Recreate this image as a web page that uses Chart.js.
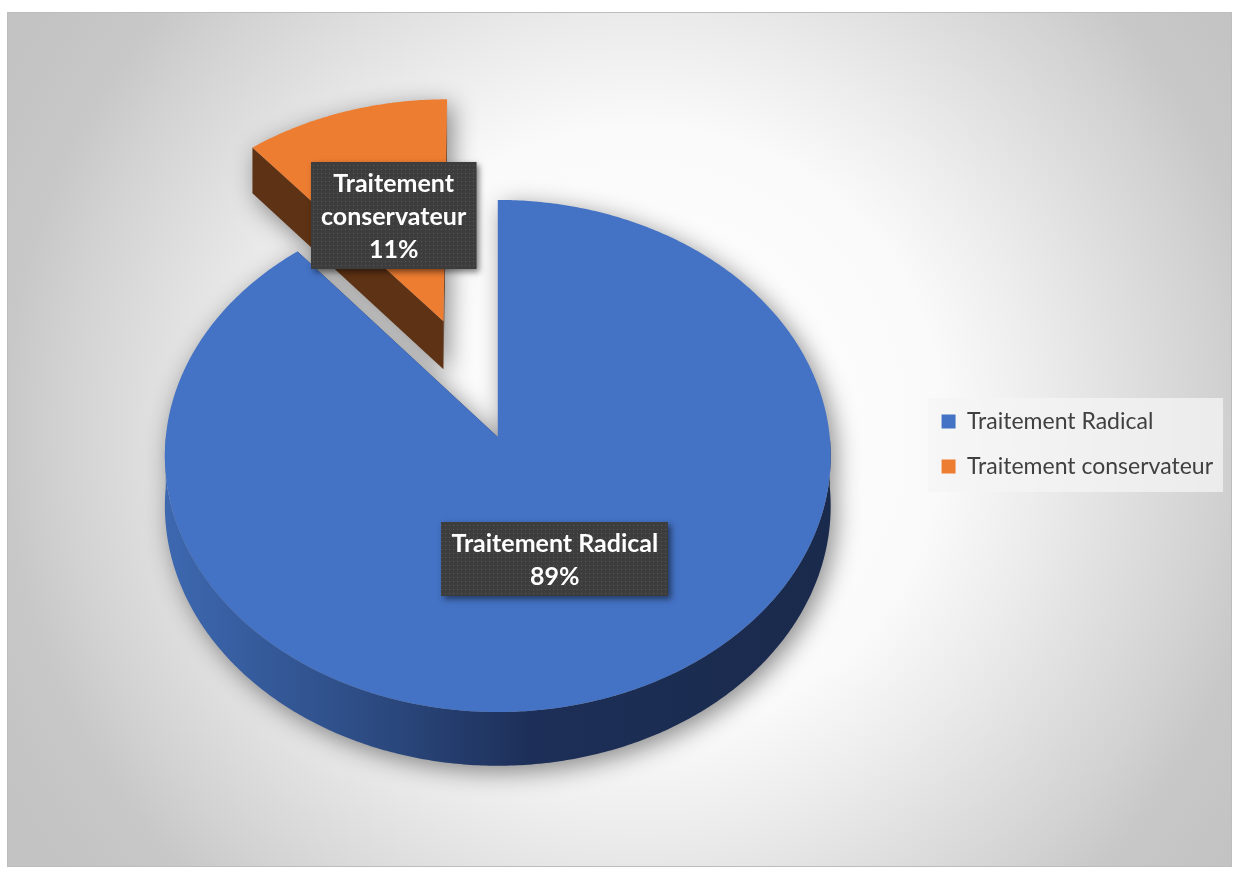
<!DOCTYPE html>
<html>
<head>
<meta charset="utf-8">
<title>Traitement</title>
<script src="https://cdn.jsdelivr.net/npm/chart.js@4.4.1/dist/chart.umd.min.js"></script>
<style>
  html, body { margin: 0; padding: 0; background: #fff; }
  canvas { display: block; }
</style>
</head>
<body>
<canvas id="traitementChart" width="1234" height="869"></canvas>
<script>
// share of patients per type of treatment (%)
const categories = ['Traitement Radical', 'Traitement conservateur'];
const shares = [89, 11];

// 3D look of the pie: vertical squash, perspective strength, thickness (all relative to radius)
const TILT = 0.767;
const PERSPECTIVE = 0.074;
const DEPTH = 0.15;
const LABEL_RADIUS = 0.49;

// disk coordinates (X right, Y away from viewer, Z down) -> canvas
function toScreen(arc, X, Y, Z) {
  const R = arc.outerRadius;
  const w = 1 + PERSPECTIVE * Y;
  return [arc.x + R * X / w, arc.y + R * (DEPTH * Z - TILT * Y) / w];
}

function slicePoint(arc, angle, r, Z) {
  const mid = (arc.startAngle + arc.endAngle) / 2;
  const e = (arc.options.offset || 0) / arc.outerRadius;
  const X = e * Math.cos(mid) + r * Math.cos(angle);
  const Y = -(e * Math.sin(mid) + r * Math.sin(angle));
  return toScreen(arc, X, Y, Z);
}

function traceRim(ctx, arc, from, to, Z, first) {
  const steps = Math.max(6, Math.ceil(Math.abs(to - from) / 0.01));
  for (let i = 0; i <= steps; i++) {
    const p = slicePoint(arc, from + (to - from) * i / steps, 1, Z);
    if (i === 0 && first) ctx.moveTo(p[0], p[1]); else ctx.lineTo(p[0], p[1]);
  }
}

function drawSlice(ctx, arc, topColor, sideColor) {
  const apexTop = slicePoint(arc, 0, 0, 0);
  const apexBottom = slicePoint(arc, 0, 0, 1);

  // flat walls along both cut edges
  ctx.fillStyle = sideColor;
  [arc.startAngle, arc.endAngle].forEach(a => {
    const t = slicePoint(arc, a, 1, 0);
    const b = slicePoint(arc, a, 1, 1);
    ctx.beginPath();
    ctx.moveTo(apexTop[0], apexTop[1]);
    ctx.lineTo(t[0], t[1]);
    ctx.lineTo(b[0], b[1]);
    ctx.lineTo(apexBottom[0], apexBottom[1]);
    ctx.closePath();
    ctx.fill();
  });

  // outer curved wall, only the half facing the viewer
  const R = arc.outerRadius;
  const grad = ctx.createLinearGradient(arc.x - R, 0, arc.x + R, 0);
  if (sideColor === '#1f325c') {
    grad.addColorStop(0, '#3d68b0');
    grad.addColorStop(0.3, '#2d4c84');
    grad.addColorStop(0.55, '#1d2f58');
    grad.addColorStop(1, '#1a2a4c');
  } else {
    grad.addColorStop(0, sideColor);
    grad.addColorStop(1, sideColor);
  }
  for (let k = -1; k <= 1; k++) {
    const lo = Math.max(arc.startAngle, 2 * Math.PI * k);
    const hi = Math.min(arc.endAngle, 2 * Math.PI * k + Math.PI);
    if (hi <= lo) continue;
    ctx.beginPath();
    traceRim(ctx, arc, lo, hi, 0, true);
    traceRim(ctx, arc, hi, lo, 1, false);
    ctx.closePath();
    ctx.fillStyle = grad;
    ctx.fill();
  }

  // top face
  ctx.beginPath();
  ctx.moveTo(apexTop[0], apexTop[1]);
  traceRim(ctx, arc, arc.startAngle, arc.endAngle, 0, false);
  ctx.closePath();
  ctx.fillStyle = topColor;
  ctx.fill();
}

let dotPattern = null;
function labelFill(ctx) {
  if (!dotPattern) {
    const c = document.createElement('canvas');
    c.width = 4; c.height = 4;
    const p = c.getContext('2d');
    p.fillStyle = '#3d3d3d';
    p.fillRect(0, 0, 4, 4);
    p.fillStyle = '#585858';
    p.fillRect(1, 1, 1, 1);
    dotPattern = ctx.createPattern(c, 'repeat');
  }
  return dotPattern;
}

const pie3d = {
  id: 'pie3d',
  afterLayout(chart) {
    // legend sits a little below the middle of the plot
    chart.legend.top += 7;
    chart.legend.bottom += 7;
  },
  beforeDraw(chart) {
    const ctx = chart.ctx;
    ctx.save();
    ctx.fillStyle = '#ffffff';
    ctx.fillRect(0, 0, chart.width, chart.height);
    const bg = ctx.createRadialGradient(640, 430, 0, 640, 430, 720);
    bg.addColorStop(0, '#ffffff');
    bg.addColorStop(0.42, '#fafafa');
    bg.addColorStop(0.56, '#ececec');
    bg.addColorStop(0.8, '#d2d2d2');
    bg.addColorStop(0.88, '#c8c8c8');
    bg.addColorStop(1, '#c3c3c3');
    ctx.fillStyle = bg;
    ctx.fillRect(7, 12, 1225, 855);
    ctx.strokeStyle = '#bdbdbd';
    ctx.lineWidth = 1;
    ctx.strokeRect(7.5, 12.5, 1224, 854);

    // legend panel
    const boxes = chart.legend.legendHitBoxes;
    if (boxes && boxes.length) {
      const first = boxes[0], last = boxes[boxes.length - 1];
      const left = first.left - 13;
      const right = Math.max(...boxes.map(b => b.left + b.width)) + 10;
      ctx.fillStyle = 'rgba(244,244,244,0.75)';
      ctx.fillRect(left, first.top - 12, right - left, last.top + last.height + 14 - (first.top - 12));
    }
    ctx.restore();
  },
  beforeDatasetDraw() {
    return false; // flat arcs are replaced by the 3D slices below
  },
  afterDatasetsDraw(chart) {
    const meta = chart.getDatasetMeta(0);
    const ds = chart.data.datasets[0];
    const off = document.createElement('canvas');
    off.width = chart.width;
    off.height = chart.height;
    const octx = off.getContext('2d');

    // far slices first
    const order = meta.data.map((arc, i) => i).sort((a, b) => {
      const ya = slicePoint(meta.data[a], 0, 0, 0)[1];
      const yb = slicePoint(meta.data[b], 0, 0, 0)[1];
      return ya - yb;
    });
    order.forEach(i => drawSlice(octx, meta.data[i], ds.backgroundColor[i], ds.sideColor[i]));

    const ctx = chart.ctx;
    ctx.save();
    ctx.shadowColor = 'rgba(0,0,0,0.45)';
    ctx.shadowBlur = 24;
    ctx.shadowOffsetX = 5;
    ctx.shadowOffsetY = 6;
    ctx.drawImage(off, 0, 0);
    ctx.restore();
  },
  afterDraw(chart) {
    const ctx = chart.ctx;
    const meta = chart.getDatasetMeta(0);
    const values = chart.data.datasets[0].data;
    const total = values.reduce((s, v) => s + v, 0);
    ctx.save();
    ctx.font = 'bold 25px Lato';
    ctx.textAlign = 'center';
    ctx.textBaseline = 'middle';
    meta.data.forEach((arc, i) => {
      const name = chart.data.labels[i];
      const lines = ctx.measureText(name).width > 230 ? name.split(' ') : [name];
      lines.push(Math.round(values[i] / total * 100) + '%');
      const mid = (arc.startAngle + arc.endAngle) / 2;
      const [cx, cy] = slicePoint(arc, mid, LABEL_RADIUS, 0);
      const lh = 33;
      const w = Math.max(...lines.map(t => ctx.measureText(t).width)) + 20;
      const h = lines.length * lh + 8;
      const x0 = Math.round(cx - w / 2), y0 = Math.round(cy - h / 2);

      ctx.save();
      ctx.shadowColor = 'rgba(0,0,0,0.5)';
      ctx.shadowBlur = 6;
      ctx.shadowOffsetX = 3;
      ctx.shadowOffsetY = 3;
      ctx.fillStyle = '#3d3d3d';
      ctx.fillRect(x0, y0, w, h);
      ctx.restore();
      ctx.fillStyle = labelFill(ctx);
      ctx.fillRect(x0, y0, w, h);

      ctx.fillStyle = '#ffffff';
      lines.forEach((t, j) => ctx.fillText(t, cx, y0 + 4 + lh * j + lh / 2 + 1));
    });
    ctx.restore();
  }
};

new Chart(document.getElementById('traitementChart'), {
  type: 'pie',
  data: {
    labels: categories,
    datasets: [{
      data: shares,
      backgroundColor: ['#4472C4', '#ED7D31'],
      sideColor: ['#1f325c', '#5e3214'],
      borderWidth: 0,
      offset: [0, 166],
      hoverOffset: 0,
      radius: 332
    }]
  },
  options: {
    responsive: false,
    animation: false,
    layout: { padding: { left: 76, right: 11, top: 105, bottom: 100 } },
    plugins: {
      tooltip: { enabled: false },
      legend: {
        position: 'right',
        labels: {
          boxWidth: 14,
          boxHeight: 14,
          padding: 22,
          color: '#404040',
          font: { family: 'Lato', size: 23 }
        }
      }
    }
  },
  plugins: [pie3d]
});
</script>
</body>
</html>
